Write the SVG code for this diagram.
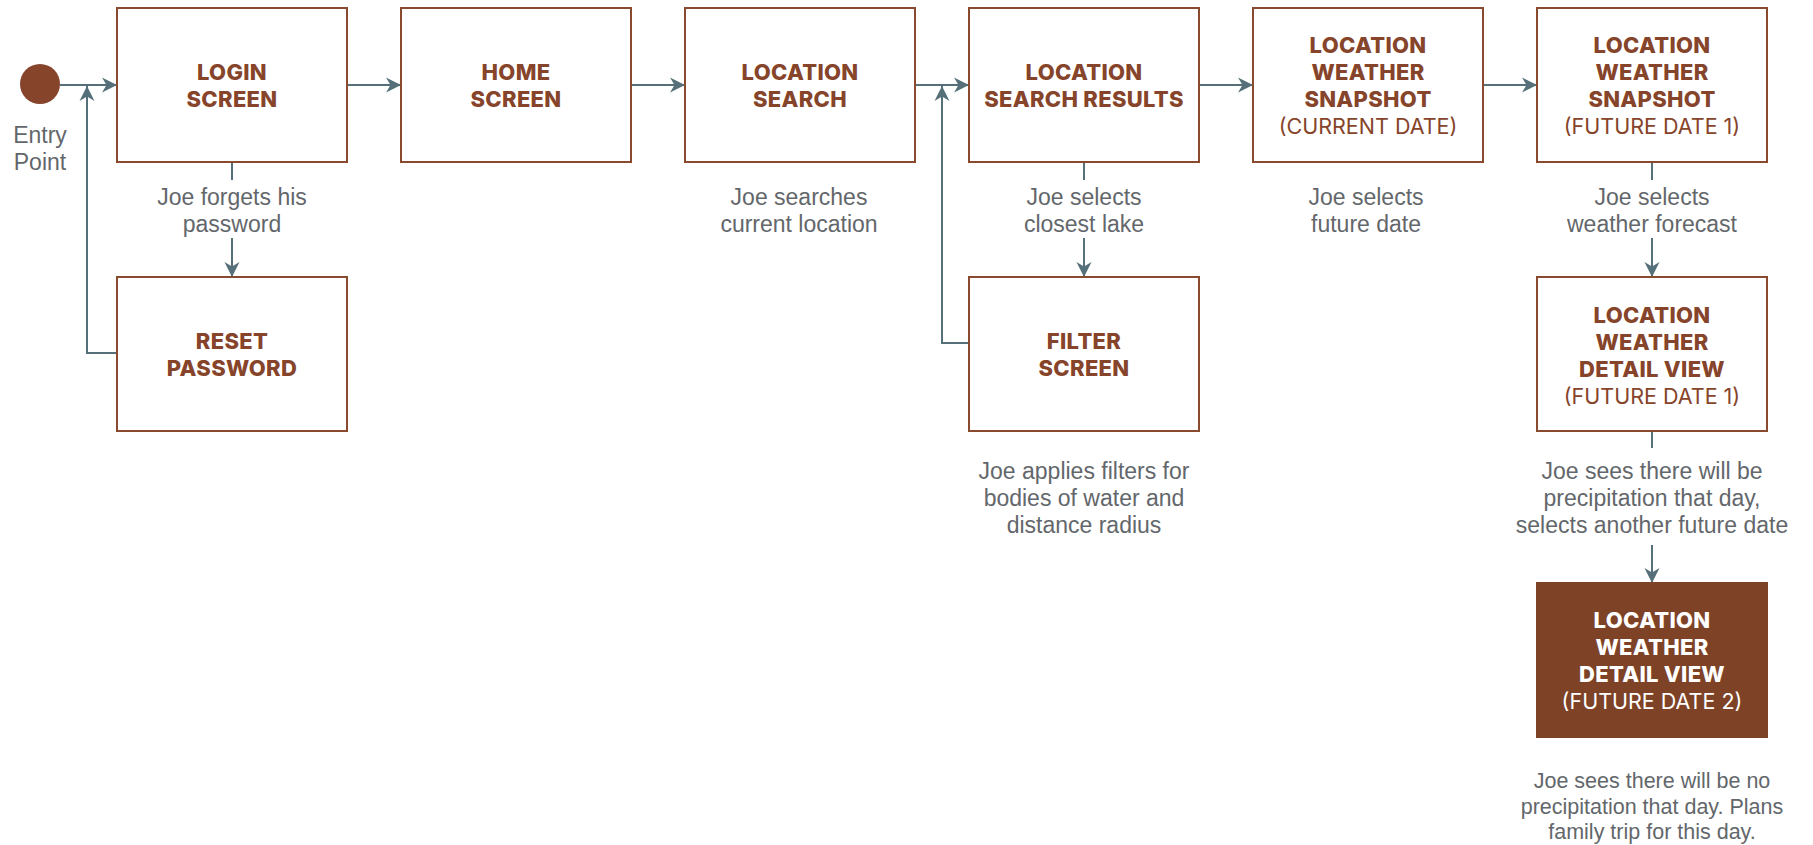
<svg xmlns="http://www.w3.org/2000/svg" width="1813" height="845" viewBox="0 0 1813 845">
<style>
.box{fill:#ffffff;stroke:#8a4a2e;stroke-width:2}
.boxf{fill:#7e4227;stroke:#7e4227;stroke-width:2}
.t{font-family:Inter,"Open Sans",sans-serif;font-size:22px;font-weight:800;fill:#86442a;text-anchor:middle;letter-spacing:0.3px}
.s{font-family:Inter,"Open Sans",sans-serif;font-size:21.5px;font-weight:400;fill:#86442a;text-anchor:middle}
.w{fill:#ffffff}
.lbl{font-family:"Liberation Sans",Arial,sans-serif;font-size:23px;fill:#63676b;text-anchor:middle}
.lbl2{font-family:"Liberation Sans",Arial,sans-serif;font-size:21.5px;fill:#63676b;text-anchor:middle}
.c{fill:none;stroke:#56707a;stroke-width:2}
</style>
<defs>
<marker id="ah" markerUnits="userSpaceOnUse" markerWidth="16" markerHeight="16" refX="15" refY="8" orient="auto">
<path d="M0,0.5 L15,8 L0,15.5 L4.5,8 Z" fill="#56707a"/>
</marker>
</defs>
<rect width="1813" height="845" fill="#ffffff"/>

<g id="connectors">
<line class="c" x1="60" y1="85" x2="117" y2="85" marker-end="url(#ah)"/>
<line class="c" x1="347" y1="85" x2="401" y2="85" marker-end="url(#ah)"/>
<line class="c" x1="631" y1="85" x2="685" y2="85" marker-end="url(#ah)"/>
<line class="c" x1="909" y1="85" x2="969" y2="85" marker-end="url(#ah)"/>
<line class="c" x1="1199" y1="85" x2="1253" y2="85" marker-end="url(#ah)"/>
<line class="c" x1="1483" y1="85" x2="1537" y2="85" marker-end="url(#ah)"/>
<line class="c" x1="232" y1="162" x2="232" y2="180"/>
<line class="c" x1="232" y1="238" x2="232" y2="277" marker-end="url(#ah)"/>
<polyline class="c" points="117,353 87,353 87,86" marker-end="url(#ah)"/>
<line class="c" x1="1084" y1="162" x2="1084" y2="180"/>
<line class="c" x1="1084" y1="238" x2="1084" y2="277" marker-end="url(#ah)"/>
<polyline class="c" points="969,343 942,343 942,86" marker-end="url(#ah)"/>
<line class="c" x1="1652" y1="162" x2="1652" y2="180"/>
<line class="c" x1="1652" y1="238" x2="1652" y2="277" marker-end="url(#ah)"/>
<line class="c" x1="1652" y1="431" x2="1652" y2="448"/>
<line class="c" x1="1652" y1="545" x2="1652" y2="583" marker-end="url(#ah)"/>
</g>

<g id="entry">
<circle cx="40" cy="84" r="20" fill="#86442a"/>
<text class="lbl" x="40" y="143">Entry</text>
<text class="lbl" x="40" y="170">Point</text>
</g>

<g id="login">
<rect class="box" x="117" y="8" width="230" height="154"/>
<text class="t" x="232" y="80">LOGIN</text>
<text class="t" x="232" y="107">SCREEN</text>
</g>
<g id="login-label">
<text class="lbl" x="232" y="205">Joe forgets his</text>
<text class="lbl" x="232" y="232">password</text>
</g>

<g id="reset">
<rect class="box" x="117" y="277" width="230" height="154"/>
<text class="t" x="232" y="349">RESET</text>
<text class="t" x="232" y="376">PASSWORD</text>
</g>

<g id="home">
<rect class="box" x="401" y="8" width="230" height="154"/>
<text class="t" x="516" y="80">HOME</text>
<text class="t" x="516" y="107">SCREEN</text>
</g>

<g id="location-search">
<rect class="box" x="685" y="8" width="230" height="154"/>
<text class="t" x="800" y="80">LOCATION</text>
<text class="t" x="800" y="107">SEARCH</text>
</g>
<g id="location-search-label">
<text class="lbl" x="799" y="205">Joe searches</text>
<text class="lbl" x="799" y="232">current location</text>
</g>

<g id="search-results">
<rect class="box" x="969" y="8" width="230" height="154"/>
<text class="t" x="1084" y="80">LOCATION</text>
<text class="t" x="1084" y="107">SEARCH RESULTS</text>
</g>
<g id="search-results-label">
<text class="lbl" x="1084" y="205">Joe selects</text>
<text class="lbl" x="1084" y="232">closest lake</text>
</g>

<g id="filter">
<rect class="box" x="969" y="277" width="230" height="154"/>
<text class="t" x="1084" y="349">FILTER</text>
<text class="t" x="1084" y="376">SCREEN</text>
</g>
<g id="filter-label">
<text class="lbl" x="1084" y="479">Joe applies filters for</text>
<text class="lbl" x="1084" y="506">bodies of water and</text>
<text class="lbl" x="1084" y="533">distance radius</text>
</g>

<g id="snapshot-current">
<rect class="box" x="1253" y="8" width="230" height="154"/>
<text class="t" x="1368" y="53">LOCATION</text>
<text class="t" x="1368" y="80">WEATHER</text>
<text class="t" x="1368" y="107">SNAPSHOT</text>
<text class="s" x="1368" y="134">(CURRENT DATE)</text>
</g>
<g id="snapshot-current-label">
<text class="lbl" x="1366" y="205">Joe selects</text>
<text class="lbl" x="1366" y="232">future date</text>
</g>

<g id="snapshot-future1">
<rect class="box" x="1537" y="8" width="230" height="154"/>
<text class="t" x="1652" y="53">LOCATION</text>
<text class="t" x="1652" y="80">WEATHER</text>
<text class="t" x="1652" y="107">SNAPSHOT</text>
<text class="s" x="1652" y="134">(FUTURE DATE 1)</text>
</g>
<g id="snapshot-future1-label">
<text class="lbl" x="1652" y="205">Joe selects</text>
<text class="lbl" x="1652" y="232">weather forecast</text>
</g>

<g id="detail-future1">
<rect class="box" x="1537" y="277" width="230" height="154"/>
<text class="t" x="1652" y="323">LOCATION</text>
<text class="t" x="1652" y="350">WEATHER</text>
<text class="t" x="1652" y="377">DETAIL VIEW</text>
<text class="s" x="1652" y="404">(FUTURE DATE 1)</text>
</g>
<g id="detail-future1-label">
<text class="lbl" x="1652" y="479">Joe sees there will be</text>
<text class="lbl" x="1652" y="506">precipitation that day,</text>
<text class="lbl" x="1652" y="533">selects another future date</text>
</g>

<g id="detail-future2">
<rect class="boxf" x="1537" y="583" width="230" height="154"/>
<text class="t w" x="1652" y="628">LOCATION</text>
<text class="t w" x="1652" y="655">WEATHER</text>
<text class="t w" x="1652" y="682">DETAIL VIEW</text>
<text class="s w" x="1652" y="709">(FUTURE DATE 2)</text>
</g>
<g id="detail-future2-label">
<text class="lbl2" x="1652" y="788">Joe sees there will be no</text>
<text class="lbl2" x="1652" y="814">precipitation that day. Plans</text>
<text class="lbl2" x="1652" y="839">family trip for this day.</text>
</g>
</svg>
